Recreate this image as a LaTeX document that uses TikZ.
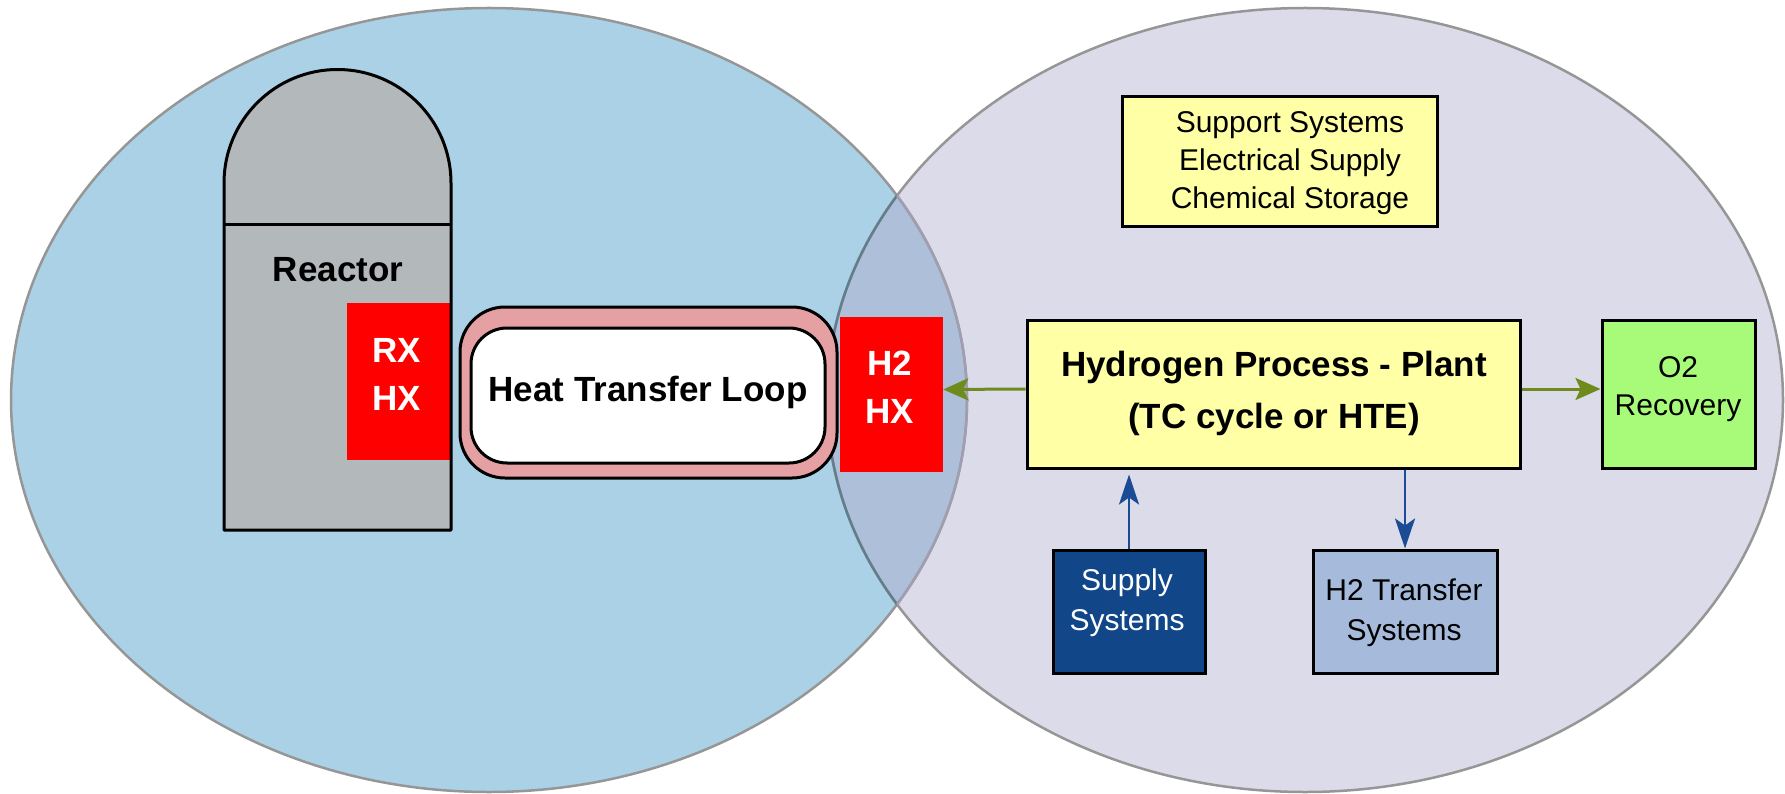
\documentclass[tikz,border=0pt]{standalone}
\usepackage{fontspec}
\setmainfont{Liberation Sans}
\usetikzlibrary{arrows.meta}

\definecolor{nuclearfill}{RGB}{171,209,230}
\definecolor{plantfill}{RGB}{220,219,233}
\definecolor{sharedfill}{RGB}{174,191,218}
\definecolor{domainedge}{RGB}{150,150,150}
\definecolor{domainedgedark}{RGB}{100,125,140}
\definecolor{domainedgelight}{RGB}{160,158,176}
\definecolor{vesselgray}{RGB}{179,185,187}
\definecolor{hxred}{RGB}{255,0,0}
\definecolor{looppink}{RGB}{228,160,163}
\definecolor{plantyellow}{RGB}{255,255,165}
\definecolor{oxygreen}{RGB}{167,251,120}
\definecolor{supplyblue}{RGB}{17,70,136}
\definecolor{transferblue}{RGB}{166,187,219}
\definecolor{flowgreen}{RGB}{111,138,29}
\definecolor{flowblue}{RGB}{26,75,148}

\newcommand\labelbig{\fontsize{35}{48}\selectfont\bfseries}
\newcommand\labelsmall{\fontsize{30}{40}\selectfont}

\begin{document}
\begin{tikzpicture}[x=1pt,y=-1pt,
  zonesize/.style={x radius=478pt, y radius=392pt},
  edge/.style={draw=domainedge, line width=2.5pt},
  box/.style={draw=black, line width=3pt, inner sep=0pt},
  hxbox/.style={fill=hxred, inner sep=0pt},
  bigtext/.style={font=\labelbig, align=center, inner sep=0pt},
  smalltext/.style={font=\labelsmall, align=center, inner sep=0pt},
  greenflow/.style={draw=flowgreen, line width=3pt,
    -{Stealth[length=25pt, width=22pt, inset=5pt]}},
  blueflow/.style={draw=flowblue, line width=2.8pt,
    -{Stealth[length=30pt, width=20pt, inset=7pt]}}
]
\useasboundingbox (0,0) rectangle (1785,794);

% the two domains and their shared zone
\fill[nuclearfill] (489,400) ellipse [zonesize];
\fill[plantfill] (1305,400) ellipse [zonesize];
\begin{scope}
  \clip (489,400) ellipse [zonesize];
  \fill[sharedfill] (1305,400) ellipse [zonesize];
\end{scope}
\draw[edge] (489,400) ellipse [zonesize];
\draw[edge] (1305,400) ellipse [zonesize];
\begin{scope}
  \clip (489,400) ellipse [zonesize];
  \draw[edge, draw=domainedgedark] (1305,400) ellipse [zonesize];
\end{scope}
\begin{scope}
  \clip (1305,400) ellipse [zonesize];
  \draw[edge, draw=domainedgelight] (489,400) ellipse [zonesize];
\end{scope}

% reactor vessel with its dome
\fill[vesselgray] (224,530) -- (224,183)
  arc[start angle=180, end angle=0, radius=113.5pt] -- (451,530) -- cycle;
\node[hxbox, minimum width=104pt, minimum height=157pt] (rxhx) at (399,381.5) {};
\draw[line width=3pt, line join=round] (224,530) -- (224,183)
  arc[start angle=180, end angle=0, radius=113.5pt] -- (451,530) -- cycle;
\draw[line width=3pt] (224,225) -- (451,225);
\node[bigtext] (reactor) at (338,270) {Reactor};
\node[bigtext, text=white] (rxhxtext) at (397,374) {RX\\HX};

% heat transfer loop
\node[box, fill=looppink, rounded corners=45pt,
  minimum width=377pt, minimum height=171pt] (loop) at (648.5,392.5) {};
\node[box, fill=white, rounded corners=36pt,
  minimum width=354pt, minimum height=135pt] (loopinner) at (648,395.5) {};
\node[bigtext] (looptext) at (648,392) {Heat Transfer Loop};

% hydrogen side heat exchanger
\node[hxbox, minimum width=103pt, minimum height=155pt] (h2hx) at (891.5,394.5) {};
\node[bigtext, text=white] (h2hxtext) at (890,387) {H2\\HX};

% support systems
\node[box, fill=plantyellow, minimum width=315pt, minimum height=130pt] (support) at (1279.5,162) {};
\node[smalltext, font=\fontsize{30}{38}\selectfont] (supporttext) at (1290,163)
  {Support Systems\\Electrical Supply\\Chemical Storage};

% hydrogen process plant
\node[box, fill=plantyellow, minimum width=493pt, minimum height=148pt] (hproc) at (1273.5,394) {};
\node[bigtext, font=\fontsize{35}{52}\selectfont\bfseries] (hproctext) at (1274,393)
  {Hydrogen Process - Plant\\(TC cycle or HTE)};

% oxygen recovery
\node[box, fill=oxygreen, minimum width=153pt, minimum height=148pt] (o2) at (1678.5,394) {};
\node[smalltext, font=\fontsize{30}{38}\selectfont] (o2text) at (1678,389) {O2\\Recovery};

% supply and transfer systems
\node[box, fill=supplyblue, minimum width=152pt, minimum height=123pt] (supply) at (1129,611.5) {};
\node[smalltext, text=white] (supplytext) at (1127,603) {Supply\\Systems};
\node[box, fill=transferblue, minimum width=184pt, minimum height=123pt] (h2t) at (1405,611.5) {};
\node[smalltext] (h2ttext) at (1404,613) {H2 Transfer\\Systems};

% flows
\draw[greenflow] ([yshift=5pt]hproc.west) -- ([yshift=5pt]h2hx.east);
\draw[greenflow] ([yshift=5pt]hproc.east) -- ([yshift=5pt]o2.west);
\draw[blueflow, shorten >=5pt] (supply.north) -- (supply.north |- hproc.south);
\draw[blueflow] (hproc.south -| h2t.north) -- (h2t.north);
\end{tikzpicture}
\end{document}
